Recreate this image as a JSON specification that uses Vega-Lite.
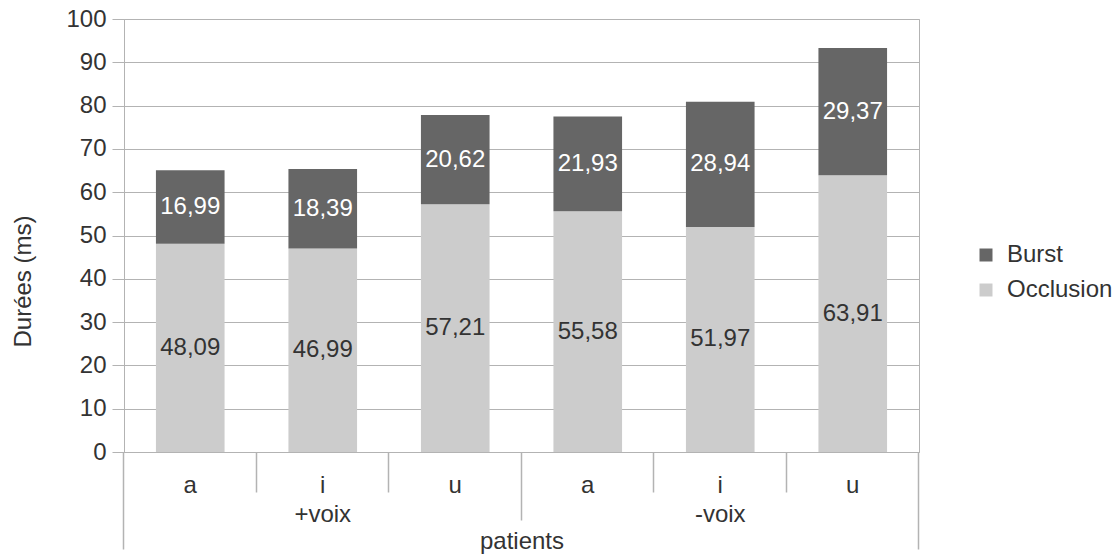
{
  "$schema": "https://vega.github.io/schema/vega-lite/v6.json",
  "autosize": "none",
  "width": 795,
  "height": 433,
  "padding": {"left": 124, "top": 19, "right": 198, "bottom": 105},
  "background": "white",
  "config": {
    "font": "Liberation Sans",
    "view": {"stroke": "#b3b3b3", "strokeWidth": 1},
    "locale": {"number": {"decimal": ",", "thousands": " ", "grouping": [3], "currency": ["", " €"]}}
  },
  "data": {
    "values": [
      {"voix": "+voix", "voyelle": "a", "type": "Occlusion", "duree": 48.09},
      {"voix": "+voix", "voyelle": "a", "type": "Burst", "duree": 16.99},
      {"voix": "+voix", "voyelle": "i", "type": "Occlusion", "duree": 46.99},
      {"voix": "+voix", "voyelle": "i", "type": "Burst", "duree": 18.39},
      {"voix": "+voix", "voyelle": "u", "type": "Occlusion", "duree": 57.21},
      {"voix": "+voix", "voyelle": "u", "type": "Burst", "duree": 20.62},
      {"voix": "-voix", "voyelle": "a", "type": "Occlusion", "duree": 55.58},
      {"voix": "-voix", "voyelle": "a", "type": "Burst", "duree": 21.93},
      {"voix": "-voix", "voyelle": "i", "type": "Occlusion", "duree": 51.97},
      {"voix": "-voix", "voyelle": "i", "type": "Burst", "duree": 28.94},
      {"voix": "-voix", "voyelle": "u", "type": "Occlusion", "duree": 63.91},
      {"voix": "-voix", "voyelle": "u", "type": "Burst", "duree": 29.37}
    ]
  },
  "transform": [
    {"calculate": "datum.voix + ' ' + datum.voyelle", "as": "cle"},
    {"stack": "duree", "groupby": ["cle"], "sort": [{"field": "type", "order": "descending"}], "as": ["y0", "y1"]},
    {"calculate": "(datum.y0 + datum.y1) / 2", "as": "milieu"}
  ],
  "layer": [
    {
      "mark": {"type": "bar", "width": {"band": 0.518}},
      "encoding": {
        "x": {
          "field": "cle", "type": "nominal", "sort": null,
          "scale": {"paddingInner": 0, "paddingOuter": 0},
          "axis": {
            "orient": "bottom",
            "title": "patients",
            "titleFontSize": 24, "titleFontWeight": "normal", "titleColor": "#333333",
            "titleBaseline": "alphabetic", "titleY": 96,
            "labelAngle": 0, "ticks": false, "domain": true, "domainColor": "#b3b3b3",
            "labelPadding": 40, "labelBaseline": "alphabetic", "labelLineHeight": 29,
            "labelFontSize": 24, "labelColor": "#333333",
            "labelExpr": "split(datum.value, ' ')[1] == 'i' ? ['i', split(datum.value, ' ')[0]] : split(datum.value, ' ')[1]"
          }
        },
        "y": {
          "field": "y0", "type": "quantitative", "title": "Durées (ms)",
          "scale": {"domain": [0, 100], "nice": false},
          "axis": {
            "titleFontSize": 24, "titleFontWeight": "normal", "titleColor": "#333333",
            "titleX": -101, "titleY": 262, "titleAngle": -90, "titleAlign": "center", "titleBaseline": "middle",
            "values": [0, 10, 20, 30, 40, 50, 60, 70, 80, 90, 100],
            "tickSize": 12, "tickColor": "#b3b3b3", "labelPadding": 6,
            "labelFontSize": 24, "labelColor": "#333333",
            "domainColor": "#b3b3b3", "gridColor": "#b3b3b3", "grid": true
          }
        },
        "y2": {"field": "y1"},
        "color": {
          "field": "type", "type": "nominal",
          "scale": {"domain": ["Burst", "Occlusion"], "range": ["#666666", "#cccccc"]},
          "legend": {
            "title": null, "orient": "none", "legendX": 850, "legendY": 224,
            "symbolType": "square", "symbolSize": 169, "symbolStrokeWidth": 0,
            "labelFontSize": 24, "labelColor": "#333333", "labelOffset": 9,
            "rowPadding": 11, "padding": 0
          }
        }
      }
    },
    {
      "transform": [{"filter": "datum.type == 'Occlusion'"}],
      "mark": {"type": "text", "color": "#333333", "fontSize": 24, "baseline": "middle", "align": "center"},
      "encoding": {
        "x": {
          "field": "cle", "type": "nominal", "sort": null,
          "axis": {
            "orient": "bottom",
            "title": null, "labels": false, "domain": false, "grid": false,
            "ticks": true, "bandPosition": 1, "tickExtra": true, "tickOffset": -1,
            "tickColor": "#b3b3b3", "tickWidth": 1.5,
            "tickSize": {"condition": [
              {"test": "datum.index < 0", "value": 97},
              {"test": "datum.index > 0.99", "value": 97},
              {"test": "datum.value == '+voix u'", "value": 68}
            ], "value": 40}
          }
        },
        "y": {"field": "milieu", "type": "quantitative", "title": "Durées (ms)"},
        "text": {"field": "duree", "type": "quantitative", "format": ".2f"}
      }
    },
    {
      "transform": [{"filter": "datum.type == 'Burst'"}],
      "mark": {"type": "text", "color": "#ffffff", "fontSize": 24, "baseline": "middle", "align": "center"},
      "encoding": {
        "x": {"field": "cle", "type": "nominal", "sort": null, "axis": null},
        "y": {"field": "milieu", "type": "quantitative", "title": "Durées (ms)"},
        "text": {"field": "duree", "type": "quantitative", "format": ".2f"}
      }
    }
  ],
  "resolve": {"axis": {"x": "independent"}}
}
